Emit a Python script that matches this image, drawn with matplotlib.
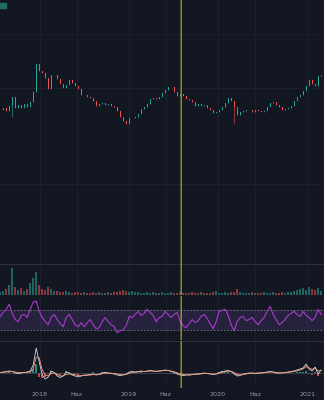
import numpy as np
import pandas as pd
import matplotlib
matplotlib.use("Agg")
import matplotlib.pyplot as plt
import matplotlib.dates as mdates
from matplotlib.patches import Rectangle

# ---------------------- Data ----------------------

closes = [15.4, 15.6, 15.3, 15.8, 16.7, 15.6, 15.9, 15.6, 16.0, 15.7, 16.2, 17.2,
          20.0, 19.3, 19.1, 18.6, 17.5, 18.9, 18.9, 18.5, 18.0, 17.6, 17.9, 18.4,
          18.1, 17.8, 17.5, 16.9, 16.9, 16.7, 16.6, 16.3, 15.8, 16.0, 16.1, 15.9,
          16.0, 15.8, 15.7, 15.3, 14.7, 14.3, 14.0, 14.6, 14.6, 14.7, 15.0, 15.5,
          15.7, 16.0, 16.5, 16.6, 16.5, 16.7, 17.1, 17.4, 17.7, 17.7, 17.2, 16.8,
          17.0, 16.8, 16.5, 16.4, 16.2, 15.8, 16.0, 15.8, 15.9, 15.6, 15.4, 15.1,
          15.2, 15.4, 15.7, 16.1, 16.6, 16.3, 15.7, 14.9, 15.2, 15.3, 15.4, 15.4,
          15.2, 15.4, 15.3, 15.2, 15.3, 15.7, 16.1, 16.2, 15.9, 15.7, 15.4, 15.5,
          15.6, 15.8, 16.3, 16.7, 16.9, 17.3, 17.8, 18.4, 18.0, 17.8, 18.8, 18.9]

# long wicks visible on the chart: candle index -> low / high
wick_lows = {4: 14.7, 78: 14.1}
wick_highs = {12: 20.1}

volume = [3, 4, 6, 10, 27, 8, 5, 7, 4, 6, 12, 17, 23, 10, 6, 5, 8, 6, 4, 4,
          3, 3, 4, 3, 2, 3, 3, 2, 3, 2, 2, 3, 2, 3, 2, 2, 3, 2, 3, 3,
          4, 5, 4, 3, 4, 3, 3, 2, 2, 3, 2, 3, 2, 2, 3, 2, 2, 3, 2, 2,
          3, 2, 2, 2, 3, 2, 2, 3, 2, 2, 2, 3, 4, 2, 2, 3, 2, 3, 3, 6,
          3, 2, 2, 2, 3, 2, 2, 2, 3, 2, 2, 3, 2, 2, 3, 2, 3, 3, 4, 5,
          6, 7, 5, 8, 6, 5, 7, 4]

rsi = [57.4, 65.8, 72.0, 82.6, 63.7, 51.0, 46.8, 59.5, 61.6, 55.3, 72.1, 86.8,
       89.0, 67.9, 55.3, 46.8, 40.5, 55.3, 61.6, 51.0, 42.6, 36.3, 55.3, 61.6,
       51.0, 40.5, 36.3, 44.7, 36.3, 44.7, 51.0, 40.5, 32.1, 34.2, 46.8, 55.3,
       46.8, 40.5, 36.3, 23.7, 27.9, 30.0, 38.4, 57.4, 55.3, 61.6, 67.9, 59.5,
       63.7, 72.1, 65.8, 59.5, 46.8, 55.3, 57.4, 67.9, 61.6, 55.3, 61.6, 65.8,
       46.8, 38.4, 34.2, 42.6, 51.0, 44.7, 48.9, 57.4, 61.6, 53.2, 42.6, 32.1,
       46.8, 67.9, 70.0, 72.1, 59.5, 40.5, 27.9, 46.8, 55.3, 57.4, 48.9, 51.0,
       55.3, 46.8, 40.5, 48.9, 55.3, 67.9, 78.4, 61.6, 51.0, 40.5, 44.7, 51.0,
       59.5, 63.7, 67.9, 61.6, 57.4, 67.9, 59.5, 55.3, 48.9, 55.3, 72.1, 61.6]

macd = [0.5, 1, 1.5, 2, 1.5, 0, -0.5, 0, 0.5, 1, 2, 8,
        25, 11, -2, -6, -4, 2, 0.5, -3, -4.5, -3, 1, 0,
        -2, -3, -4, -3, -2, -2, -1.5, -1, -2, -1, 0, 0.5,
        0, -0.5, -1, -2, -2.5, -2, -1, 1, 1.5, 1, 1.5, 2,
        1.5, 2, 2.5, 2, 1.5, 2, 2.5, 3, 2.5, 1.5, 0.5, -1,
        -2, -2.5, -2, -2, -1.5, -1, -1, -0.5, 0, -0.5, -1, -1.5,
        -1, 0.5, 1.5, 2, 2.5, 1.5, -1, -3, -2.5, -1, -0.5, 0,
        0, -0.5, 0, 0, 0.5, 1, 1.5, 1, 0, 0, 0, 0.5,
        1, 1.5, 2, 3, 4, 5, 9, 4, 2, 6, -1, 3]

signal = [0.5, 0.7, 1, 1.3, 1.4, 1, 0.6, 0.4, 0.4, 0.6, 1.2, 4,
          16, 15, 3, -2, -3, -0.5, 0, -1.5, -3, -2.8, -1.5, -1,
          -1.3, -1.8, -2.5, -2.8, -2.5, -2.3, -2, -1.6, -1.7, -1.4, -0.8, -0.2,
          0, -0.2, -0.5, -1, -1.6, -1.8, -1.5, -0.4, 0.4, 0.7, 1, 1.4,
          1.5, 1.7, 2, 2, 1.8, 1.9, 2.1, 2.5, 2.5, 2, 1.3, 0.2,
          -0.8, -1.6, -1.8, -1.9, -1.7, -1.4, -1.2, -0.9, -0.4, -0.4, -0.7, -1.1,
          -1.1, -0.3, 0.6, 1.3, 1.9, 1.7, 0.4, -1.3, -2, -1.5, -1, -0.5,
          -0.2, -0.3, -0.1, 0, 0.3, 0.6, 1, 1, 0.5, 0.2, 0.1, 0.3,
          0.6, 1, 1.5, 2.2, 3, 4, 6.5, 5.2, 3.6, 4.8, 2, 2.5]

tick_dates = ["2018-01-01", "2018-06-01", "2019-01-01", "2019-06-01",
              "2020-01-01", "2020-06-01", "2021-01-01"]
tick_labels = ["2018", "Haz", "2019", "Haz", "2020", "Haz", "2021"]

marker_date = "2019-08-03"

# ---------------------- Setup ----------------------

BG = "#131722"
GRID = "#1c2030"
SEP = "#2a2e39"
UP = "#26a69a"
DOWN = "#ef5350"

n = len(closes)
start = pd.Timestamp("2017-07-22")
dates = [start + pd.Timedelta(days=12.3 * i) for i in range(n)]
x = mdates.date2num(dates)
opens = [closes[0]] + closes[:-1]
highs = [max(o, c) for o, c in zip(opens, closes)]
lows = [min(o, c) for o, c in zip(opens, closes)]
for i, v in wick_lows.items():
    lows[i] = v
for i, v in wick_highs.items():
    highs[i] = v
up = [c >= o for o, c in zip(opens, closes)]
cols = [UP if u else DOWN for u in up]

xmin = mdates.date2num(pd.Timestamp("2017-07-21"))
xmax = mdates.date2num(pd.Timestamp("2021-03-11"))
ticks = mdates.date2num(pd.to_datetime(tick_dates))

fig = plt.figure(figsize=(3.24, 4.0), dpi=100, facecolor=BG)

def pane(top, bottom):
    ax = fig.add_axes([0, (400 - bottom) / 400, 1, (bottom - top) / 400])
    ax.set_facecolor(BG)
    for s in ax.spines.values():
        s.set_visible(False)
    ax.set_xticks([])
    ax.set_yticks([])
    ax.set_xlim(xmin, xmax)
    for t in ticks:
        ax.axvline(t, color=GRID, lw=0.6, zorder=0)
    return ax

# ---------------------- Price pane ----------------------

ax1 = pane(0, 264)
ax1.set_ylim(0, 26.4)
for lvl in [8.0, 17.6, 23.0]:
    ax1.axhline(lvl, color=GRID, lw=0.6, zorder=0)
ax1.vlines(x, lows, highs, colors=cols, lw=0.4)
ax1.bar(x, [abs(c - o) + 0.08 for o, c in zip(opens, closes)],
        bottom=[min(o, c) - 0.04 for o, c in zip(opens, closes)],
        width=4.5, color=cols, lw=0)
fig.patches.append(Rectangle((0, 1 - 8 / 400), 6 / 324, 5 / 400,
                             transform=fig.transFigure, color="#1d6f66"))

# ---------------------- Volume pane ----------------------

ax2 = pane(264, 295)
ax2.set_ylim(0, 31)
ax2.bar(x, volume, width=8, color=cols, alpha=0.55, lw=0)
ax2.axhline(31, color=SEP, lw=0.8)

# ---------------------- RSI pane ----------------------

ax3 = pane(296, 340)
ax3.set_ylim(9, 99.5)
ax3.axhspan(30, 70, color="#7e57c2", alpha=0.18, lw=0)
ax3.axhline(70, color="#787b86", lw=0.6, ls=(0, (2, 2)))
ax3.axhline(30, color="#787b86", lw=0.6, ls=(0, (2, 2)))
ax3.plot(x, rsi, color="#a83ccc", lw=0.8)

# ---------------------- MACD pane ----------------------

ax4 = pane(341, 388)
ax4.set_ylim(-15, 32)
hist = [m - s for m, s in zip(macd, signal)]
ax4.bar(x, hist, width=8, color=[UP if h >= 0 else DOWN for h in hist], alpha=0.8, lw=0)
ax4.axhline(0, color="#4a4e59", lw=0.5)
ax4.plot(x, macd, color="#d1d4dc", lw=0.6)
ax4.plot(x, signal, color="#f7a07a", lw=0.6)
ax4.axhline(32, color=SEP, lw=0.8)

# ---------------------- Date labels & marker ----------------------

axd = fig.add_axes([0, 0, 1, 12 / 400])
axd.set_facecolor(BG)
axd.axis("off")
axd.set_xlim(xmin, xmax)
axd.set_ylim(0, 1)
for t, lab in zip(ticks, tick_labels):
    axd.text(t, 0.45, lab, color="#9598a1", fontsize=4.6, ha="center", va="center")

# yellow marker line through all panes
mx = mdates.date2num(pd.Timestamp(marker_date))
for ax in (ax1, ax2, ax3, ax4):
    ax.axvline(mx, color="#cbbb3c", lw=0.75, zorder=5, snap=False)

fig.savefig("out.png", dpi=100, facecolor=BG)
